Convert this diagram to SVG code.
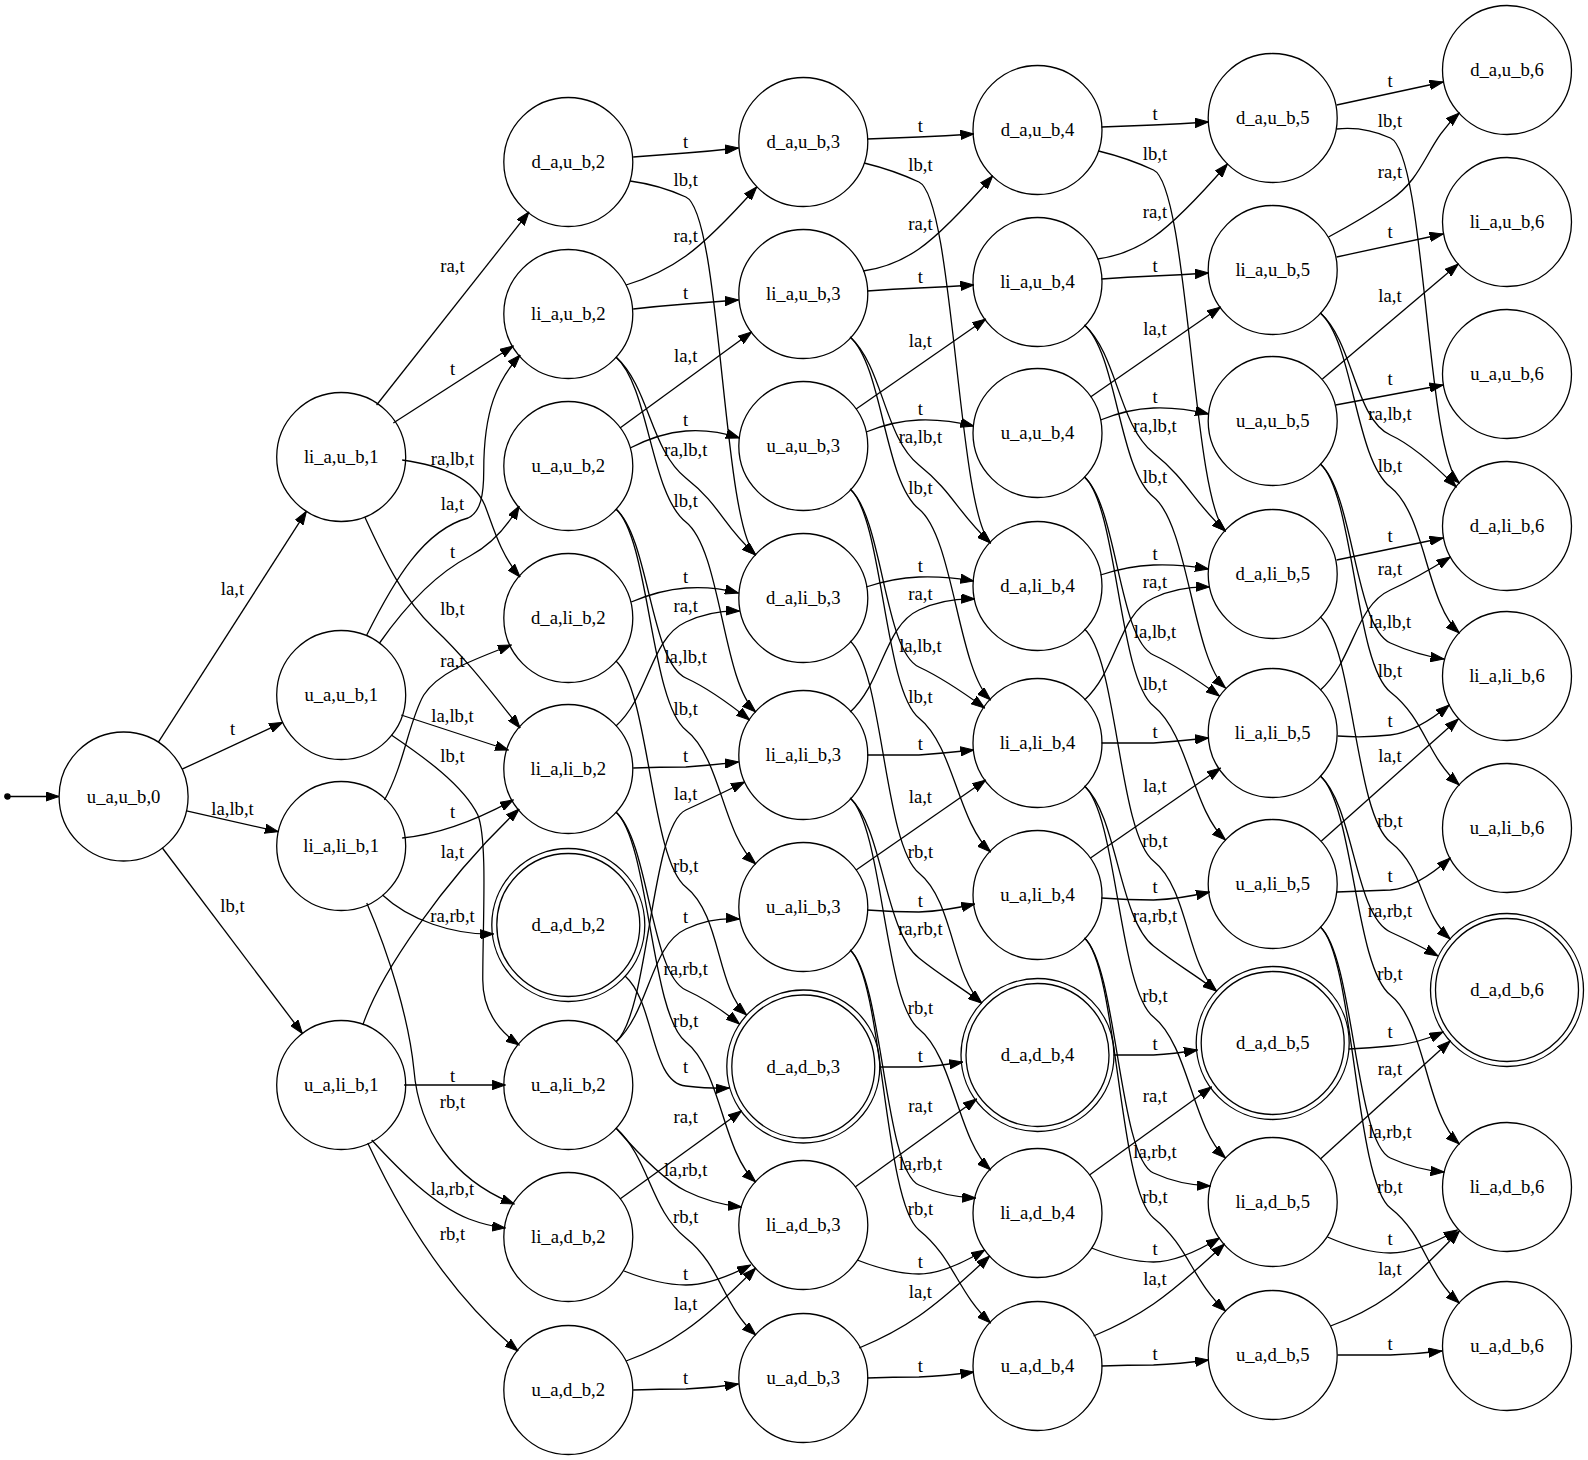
<svg xmlns="http://www.w3.org/2000/svg" width="1588" height="1460" viewBox="0 0 1588 1460">
<defs>
<marker id="arr" markerUnits="userSpaceOnUse" viewBox="0 0 14 10" markerWidth="14" markerHeight="10" refX="13.4" refY="5" orient="auto">
<path d="M0,0.35 L13.4,5 L0,9.65 Z" fill="#000" stroke="#000" stroke-width="1"/>
</marker>
</defs>
<style>
.node circle{fill:none;stroke:#000;stroke-width:1.3}
text{font-family:"Liberation Serif","Times New Roman",serif;font-size:18.67px;text-anchor:middle;fill:#000}
.edges path{fill:none;stroke:#000;stroke-width:1.3;marker-end:url(#arr)}
</style>
<rect width="1588" height="1460" fill="#fff"/>
<g id="nodes">
<g id="start" class="node"><circle cx="7.4" cy="796.5" r="2.6" style="fill:#000"/></g>
<g id="u_a_u_b_0" class="node"><circle cx="123.6" cy="796.5" r="64.5"/><text x="123.6" y="802.5">u_a,u_b,0</text></g>
<g id="li_a_u_b_1" class="node"><circle cx="341.2" cy="457" r="64.5"/><text x="341.2" y="463">li_a,u_b,1</text></g>
<g id="u_a_u_b_1" class="node"><circle cx="341.2" cy="695" r="64.5"/><text x="341.2" y="701">u_a,u_b,1</text></g>
<g id="li_a_li_b_1" class="node"><circle cx="341.2" cy="846" r="64.5"/><text x="341.2" y="852">li_a,li_b,1</text></g>
<g id="u_a_li_b_1" class="node"><circle cx="341.2" cy="1085" r="64.5"/><text x="341.2" y="1091">u_a,li_b,1</text></g>
<g id="d_a_u_b_2" class="node"><circle cx="568.3" cy="162" r="64.5"/><text x="568.3" y="168">d_a,u_b,2</text></g>
<g id="li_a_u_b_2" class="node"><circle cx="568.3" cy="314" r="64.5"/><text x="568.3" y="320">li_a,u_b,2</text></g>
<g id="u_a_u_b_2" class="node"><circle cx="568.3" cy="466" r="64.5"/><text x="568.3" y="472">u_a,u_b,2</text></g>
<g id="d_a_li_b_2" class="node"><circle cx="568.3" cy="618" r="64.5"/><text x="568.3" y="624">d_a,li_b,2</text></g>
<g id="li_a_li_b_2" class="node"><circle cx="568.3" cy="769" r="64.5"/><text x="568.3" y="775">li_a,li_b,2</text></g>
<g id="d_a_d_b_2" class="node"><circle cx="568.3" cy="925" r="71.5"/><circle cx="568.3" cy="925" r="76.5"/><text x="568.3" y="931">d_a,d_b,2</text></g>
<g id="u_a_li_b_2" class="node"><circle cx="568.3" cy="1085" r="64.5"/><text x="568.3" y="1091">u_a,li_b,2</text></g>
<g id="li_a_d_b_2" class="node"><circle cx="568.3" cy="1237" r="64.5"/><text x="568.3" y="1243">li_a,d_b,2</text></g>
<g id="u_a_d_b_2" class="node"><circle cx="568.3" cy="1390" r="64.5"/><text x="568.3" y="1396">u_a,d_b,2</text></g>
<g id="d_a_u_b_3" class="node"><circle cx="803.3" cy="142" r="64.5"/><text x="803.3" y="148">d_a,u_b,3</text></g>
<g id="li_a_u_b_3" class="node"><circle cx="803.3" cy="294" r="64.5"/><text x="803.3" y="300">li_a,u_b,3</text></g>
<g id="u_a_u_b_3" class="node"><circle cx="803.3" cy="446" r="64.5"/><text x="803.3" y="452">u_a,u_b,3</text></g>
<g id="d_a_li_b_3" class="node"><circle cx="803.3" cy="598" r="64.5"/><text x="803.3" y="604">d_a,li_b,3</text></g>
<g id="li_a_li_b_3" class="node"><circle cx="803.3" cy="755" r="64.5"/><text x="803.3" y="761">li_a,li_b,3</text></g>
<g id="u_a_li_b_3" class="node"><circle cx="803.3" cy="907" r="64.5"/><text x="803.3" y="913">u_a,li_b,3</text></g>
<g id="d_a_d_b_3" class="node"><circle cx="803.3" cy="1066.5" r="71.5"/><circle cx="803.3" cy="1066.5" r="76.5"/><text x="803.3" y="1072.5">d_a,d_b,3</text></g>
<g id="li_a_d_b_3" class="node"><circle cx="803.3" cy="1225" r="64.5"/><text x="803.3" y="1231">li_a,d_b,3</text></g>
<g id="u_a_d_b_3" class="node"><circle cx="803.3" cy="1378" r="64.5"/><text x="803.3" y="1384">u_a,d_b,3</text></g>
<g id="d_a_u_b_4" class="node"><circle cx="1037.5" cy="130" r="64.5"/><text x="1037.5" y="136">d_a,u_b,4</text></g>
<g id="li_a_u_b_4" class="node"><circle cx="1037.5" cy="282" r="64.5"/><text x="1037.5" y="288">li_a,u_b,4</text></g>
<g id="u_a_u_b_4" class="node"><circle cx="1037.5" cy="433" r="64.5"/><text x="1037.5" y="439">u_a,u_b,4</text></g>
<g id="d_a_li_b_4" class="node"><circle cx="1037.5" cy="586" r="64.5"/><text x="1037.5" y="592">d_a,li_b,4</text></g>
<g id="li_a_li_b_4" class="node"><circle cx="1037.5" cy="743" r="64.5"/><text x="1037.5" y="749">li_a,li_b,4</text></g>
<g id="u_a_li_b_4" class="node"><circle cx="1037.5" cy="895" r="64.5"/><text x="1037.5" y="901">u_a,li_b,4</text></g>
<g id="d_a_d_b_4" class="node"><circle cx="1037.5" cy="1055" r="71.5"/><circle cx="1037.5" cy="1055" r="76.5"/><text x="1037.5" y="1061">d_a,d_b,4</text></g>
<g id="li_a_d_b_4" class="node"><circle cx="1037.5" cy="1213" r="64.5"/><text x="1037.5" y="1219">li_a,d_b,4</text></g>
<g id="u_a_d_b_4" class="node"><circle cx="1037.5" cy="1366" r="64.5"/><text x="1037.5" y="1372">u_a,d_b,4</text></g>
<g id="d_a_u_b_5" class="node"><circle cx="1272.7" cy="118" r="64.5"/><text x="1272.7" y="124">d_a,u_b,5</text></g>
<g id="li_a_u_b_5" class="node"><circle cx="1272.7" cy="270" r="64.5"/><text x="1272.7" y="276">li_a,u_b,5</text></g>
<g id="u_a_u_b_5" class="node"><circle cx="1272.7" cy="421" r="64.5"/><text x="1272.7" y="427">u_a,u_b,5</text></g>
<g id="d_a_li_b_5" class="node"><circle cx="1272.7" cy="574" r="64.5"/><text x="1272.7" y="580">d_a,li_b,5</text></g>
<g id="li_a_li_b_5" class="node"><circle cx="1272.7" cy="733" r="64.5"/><text x="1272.7" y="739">li_a,li_b,5</text></g>
<g id="u_a_li_b_5" class="node"><circle cx="1272.7" cy="884" r="64.5"/><text x="1272.7" y="890">u_a,li_b,5</text></g>
<g id="d_a_d_b_5" class="node"><circle cx="1272.7" cy="1043" r="71.5"/><circle cx="1272.7" cy="1043" r="76.5"/><text x="1272.7" y="1049">d_a,d_b,5</text></g>
<g id="li_a_d_b_5" class="node"><circle cx="1272.7" cy="1202" r="64.5"/><text x="1272.7" y="1208">li_a,d_b,5</text></g>
<g id="u_a_d_b_5" class="node"><circle cx="1272.7" cy="1355" r="64.5"/><text x="1272.7" y="1361">u_a,d_b,5</text></g>
<g id="d_a_u_b_6" class="node"><circle cx="1507" cy="70" r="64.5"/><text x="1507" y="76">d_a,u_b,6</text></g>
<g id="li_a_u_b_6" class="node"><circle cx="1507" cy="222" r="64.5"/><text x="1507" y="228">li_a,u_b,6</text></g>
<g id="u_a_u_b_6" class="node"><circle cx="1507" cy="374" r="64.5"/><text x="1507" y="380">u_a,u_b,6</text></g>
<g id="d_a_li_b_6" class="node"><circle cx="1507" cy="526" r="64.5"/><text x="1507" y="532">d_a,li_b,6</text></g>
<g id="li_a_li_b_6" class="node"><circle cx="1507" cy="676" r="64.5"/><text x="1507" y="682">li_a,li_b,6</text></g>
<g id="u_a_li_b_6" class="node"><circle cx="1507" cy="828" r="64.5"/><text x="1507" y="834">u_a,li_b,6</text></g>
<g id="d_a_d_b_6" class="node"><circle cx="1507" cy="990" r="71.5"/><circle cx="1507" cy="990" r="76.5"/><text x="1507" y="996">d_a,d_b,6</text></g>
<g id="li_a_d_b_6" class="node"><circle cx="1507" cy="1187" r="64.5"/><text x="1507" y="1193">li_a,d_b,6</text></g>
<g id="u_a_d_b_6" class="node"><circle cx="1507" cy="1346" r="64.5"/><text x="1507" y="1352">u_a,d_b,6</text></g>
</g>
<g id="edges" class="edges">
<g id="e01">
<path d="M10,796.5 L59,796.5"/>
<path d="M158.4,742.2 L306.4,511.3"/>
<path d="M182.1,769.2 L282.7,722.3"/>
<path d="M186.5,810.8 L278.3,831.7"/>
<path d="M162.4,848 L302.4,1033.5"/>
</g>
<g id="e12" transform="matrix(0.9831,0,0,1,10.88,0)">
<path d="M372,405 L527,212"/>
<path d="M389,423 L511,346"/>
<path d="M398,460 C440,466 470,478 482,505 C490,525 498,555 518,577"/>
<path d="M362,635 C390,580 420,530 465,518 C478,512 481,495 481,470 C481,410 495,380 518,355"/>
<path d="M375,643 Q420,580 467,556 Q497,540 517,506"/>
<path d="M360,517 C380,560 400,600 430,628 C465,660 495,700 518,728"/>
<path d="M380,800 C400,765 405,720 420,695 C435,672 470,660 509,645"/>
<path d="M397,715 L506,750"/>
<path d="M387,735 C420,757 460,785 475,815 C485,840 480,920 480,980 C480,1010 495,1030 517,1045"/>
<path d="M398,838 C430,835 470,822 511,800"/>
<path d="M358,1025 C375,975 440,880 517,809"/>
<path d="M378,895 C405,920 450,935 491,934"/>
<path d="M400,1085 L503,1085"/>
<path d="M362,903 C385,955 405,1020 410,1070 C415,1130 450,1180 512,1204"/>
<path d="M367,1140 C395,1170 430,1205 466,1219 Q485,1226 503,1228"/>
<path d="M363,1143 C390,1200 440,1290 516,1351"/>
</g>
<g id="e23" transform="matrix(1.01293,0,0,1,-5.99,0)">
<path d="M631,157 Q657,155 683,153 Q709,151 735,148"/>
<path d="M628,181 Q657,185 683,197 C718,213 719,525 752,555"/>
<path d="M624,285 Q657,275 683,256 Q709,237 753,187"/>
<path d="M631,309 Q657,306 683,304 Q709,302 735,300"/>
<path d="M618,428 L748,332"/>
<path d="M628,448 Q657,433 683,431 Q709,429 736,438"/>
<path d="M614,357 C647,387 648,450 683,478 C718,506 719,525 752,555"/>
<path d="M614,357 C647,387 648,494 683,522 C718,550 719,682 752,712"/>
<path d="M629,602 Q657,590 683,588 Q709,586 735,593"/>
<path d="M614,726 C647,696 648,638 683,622 Q709,610 736,611"/>
<path d="M614,509 C647,539 648,662 683,678 Q709,690 746,720"/>
<path d="M614,509 C647,539 648,702 683,730 C718,758 719,834 752,864"/>
<path d="M631,768 Q657,767 683,767 Q709,765 735,762"/>
<path d="M614,1042 C647,1012 648,826 683,810 Q709,798 741,782"/>
<path d="M614,661 C647,691 648,859 683,887 C718,915 713,988 743,1015"/>
<path d="M614,1042 C647,1012 648,945 683,929 Q709,917 736,919"/>
<path d="M614,812 C647,842 648,974 683,990 Q709,1002 736,1024"/>
<path d="M614,812 C647,842 648,1014 683,1042 C718,1070 719,1152 752,1182"/>
<path d="M623,976 C653,1003 648,1083 683,1086 Q709,1089 726,1088"/>
<path d="M618,1199 L738,1111"/>
<path d="M614,1128 Q657,1178 683,1191 Q709,1204 738,1207"/>
<path d="M614,1128 C647,1158 648,1210 683,1238 C718,1266 719,1305 752,1335"/>
<path d="M622,1271 Q657,1285 683,1285 Q709,1285 747,1265"/>
<path d="M624,1361 Q657,1349 683,1330 Q709,1312 752,1268"/>
<path d="M631,1390 Q657,1389 683,1389 Q709,1388 735,1384"/>
</g>
<g id="e34" transform="matrix(0.9966,0,0,1,7.03,0)">
<path d="M863,139 Q889,138 915,137 Q941,136 970,134"/>
<path d="M860,163 Q889,170 915,182 C950,198 954,513 987,543"/>
<path d="M859,271 Q889,267 915,249 Q941,231 989,176"/>
<path d="M863,291 Q889,289 915,288 Q941,287 970,285"/>
<path d="M852,409 L982,319"/>
<path d="M862,432 Q889,421 915,420 Q941,419 970,426"/>
<path d="M846,337 C879,367 880,437 915,465 C950,493 954,513 987,543"/>
<path d="M846,337 C879,367 880,481 915,509 C950,537 954,670 987,700"/>
<path d="M862,587 Q889,578 915,577 Q941,576 970,581"/>
<path d="M846,712 C879,682 880,626 915,610 Q941,598 971,599"/>
<path d="M846,489 C879,519 880,651 915,667 Q941,679 981,708"/>
<path d="M846,489 C879,519 880,690 915,718 C950,746 954,822 987,852"/>
<path d="M863,755 Q889,755 915,755 Q941,753 970,750"/>
<path d="M852,870 L982,780"/>
<path d="M846,641 C879,671 880,845 915,873 C950,901 948,976 978,1003"/>
<path d="M863,910 Q889,912 915,912 Q941,911 971,904"/>
<path d="M846,798 C879,828 880,930 915,958 C940,978 950,982 978,1003"/>
<path d="M846,798 C879,828 880,1001 915,1029 C950,1057 954,1140 987,1170"/>
<path d="M875,1067 Q895,1067 915,1067 Q935,1066 959,1062"/>
<path d="M851,1187 L973,1099"/>
<path d="M846,950 C879,980 880,1169 915,1185 Q941,1197 972,1198"/>
<path d="M846,950 C879,980 880,1202 915,1230 C950,1258 954,1293 987,1323"/>
<path d="M853,1260 Q889,1274 915,1274 Q941,1274 981,1250"/>
<path d="M855,1348 Q889,1334 915,1316 Q941,1298 986,1256"/>
<path d="M863,1378 Q889,1377 915,1377 Q941,1376 970,1372"/>
</g>
<g id="e45" transform="translate(238.5,-12)">
<path d="M863,139 Q889,138 915,137 Q941,136 970,134"/>
<path d="M860,163 Q889,170 915,182 C950,198 954,513 987,543"/>
<path d="M859,271 Q889,267 915,249 Q941,231 989,176"/>
<path d="M863,291 Q889,289 915,288 Q941,287 970,285"/>
<path d="M852,409 L982,319"/>
<path d="M862,432 Q889,421 915,420 Q941,419 970,426"/>
<path d="M846,337 C879,367 880,437 915,465 C950,493 954,513 987,543"/>
<path d="M846,337 C879,367 880,481 915,509 C950,537 954,670 987,700"/>
<path d="M862,587 Q889,578 915,577 Q941,576 970,581"/>
<path d="M846,712 C879,682 880,626 915,610 Q941,598 971,599"/>
<path d="M846,489 C879,519 880,651 915,667 Q941,679 981,708"/>
<path d="M846,489 C879,519 880,690 915,718 C950,746 954,822 987,852"/>
<path d="M863,755 Q889,755 915,755 Q941,753 970,750"/>
<path d="M852,870 L982,780"/>
<path d="M846,641 C879,671 880,845 915,873 C950,901 948,976 978,1003"/>
<path d="M863,910 Q889,912 915,912 Q941,911 971,904"/>
<path d="M846,798 C879,828 880,930 915,958 C940,978 950,982 978,1003"/>
<path d="M846,798 C879,828 880,1001 915,1029 C950,1057 954,1140 987,1170"/>
<path d="M875,1067 Q895,1067 915,1067 Q935,1066 959,1062"/>
<path d="M851,1187 L973,1099"/>
<path d="M846,950 C879,980 880,1169 915,1185 Q941,1197 972,1198"/>
<path d="M846,950 C879,980 880,1202 915,1230 C950,1258 954,1293 987,1323"/>
<path d="M853,1260 Q889,1274 915,1274 Q941,1274 981,1250"/>
<path d="M855,1348 Q889,1334 915,1316 Q941,1298 986,1256"/>
<path d="M863,1378 Q889,1377 915,1377 Q941,1376 970,1372"/>
</g>
<g id="e56" transform="matrix(1.01429,0,0,1,-14.43,0)">
<path d="M1332,105 L1437,82"/>
<path d="M1332,129 Q1359,126 1385,138 C1420,154 1420,453 1453,483"/>
<path d="M1324,237 Q1359,218 1385,200 C1420,176 1420,143 1453,113"/>
<path d="M1332,257 L1437,234"/>
<path d="M1318,379 L1452,264"/>
<path d="M1331,405 L1437,385"/>
<path d="M1316,313 C1349,343 1350,419 1385,435 Q1411,447 1450,487"/>
<path d="M1316,313 C1349,343 1350,459 1385,487 C1420,515 1420,603 1453,633"/>
<path d="M1332,560 L1437,538"/>
<path d="M1316,690 C1349,660 1350,606 1385,590 Q1411,578 1444,557"/>
<path d="M1316,464 C1349,494 1350,627 1385,643 Q1411,655 1438,659"/>
<path d="M1316,464 C1349,494 1350,664 1385,692 C1420,720 1420,755 1453,785"/>
<path d="M1333,736 Q1359,738 1385,735 Q1411,732 1443,705"/>
<path d="M1317,841 L1452,719"/>
<path d="M1316,617 C1349,647 1350,814 1385,842 C1420,870 1414,912 1444,939"/>
<path d="M1332,892 Q1359,891 1385,890 Q1411,888 1444,858"/>
<path d="M1316,776 C1349,806 1350,916 1385,932 Q1411,944 1432,956"/>
<path d="M1316,776 C1349,806 1350,967 1385,995 C1420,1023 1420,1114 1453,1144"/>
<path d="M1344,1049 Q1365,1048 1385,1046 Q1411,1044 1437,1032"/>
<path d="M1316,1159 L1444,1041"/>
<path d="M1316,927 C1349,957 1350,1142 1385,1158 Q1411,1170 1438,1172"/>
<path d="M1316,927 C1349,957 1350,1180 1385,1208 C1420,1236 1420,1273 1453,1303"/>
<path d="M1323,1237 Q1359,1253 1385,1253 Q1411,1253 1451,1230"/>
<path d="M1326,1326 Q1359,1314 1385,1295 Q1411,1276 1453,1231"/>
<path d="M1333,1355 Q1359,1355 1385,1355 Q1411,1354 1436,1351"/>
</g>
</g>
<g id="edge-labels">
<text x="232.5" y="595">la,t</text><text x="232.5" y="735">t</text><text x="232.5" y="815">la,lb,t</text><text x="232.5" y="912">lb,t</text>
<text x="452.5" y="272">ra,t</text><text x="452.5" y="375">t</text><text x="452.5" y="465">ra,lb,t</text><text x="452.5" y="510">la,t</text><text x="452.5" y="558">t</text><text x="452.5" y="615">lb,t</text><text x="452.5" y="667">ra,t</text><text x="452.5" y="722">la,lb,t</text><text x="452.5" y="762">lb,t</text><text x="452.5" y="818">t</text><text x="452.5" y="858">la,t</text><text x="452.5" y="922">ra,rb,t</text><text x="452.5" y="1082">t</text><text x="452.5" y="1108">rb,t</text><text x="452.5" y="1195">la,rb,t</text><text x="452.5" y="1240">rb,t</text>
<text x="685.7" y="148">t</text><text x="685.7" y="186">lb,t</text><text x="685.7" y="242">ra,t</text><text x="685.7" y="299">t</text><text x="685.7" y="362">la,t</text><text x="685.7" y="426">t</text><text x="685.7" y="456">ra,lb,t</text><text x="685.7" y="507">lb,t</text><text x="685.7" y="583">t</text><text x="685.7" y="612">ra,t</text><text x="685.7" y="663">la,lb,t</text><text x="685.7" y="715">lb,t</text><text x="685.7" y="762">t</text><text x="685.7" y="800">la,t</text><text x="685.7" y="872">rb,t</text><text x="685.7" y="923">t</text><text x="685.7" y="975">ra,rb,t</text><text x="685.7" y="1027">rb,t</text><text x="685.7" y="1073">t</text><text x="685.7" y="1123">ra,t</text><text x="685.7" y="1176">la,rb,t</text><text x="685.7" y="1223">rb,t</text><text x="685.7" y="1280">t</text><text x="685.7" y="1310">la,t</text><text x="685.7" y="1384">t</text>
<text x="920.4" y="132">t</text><text x="920.4" y="171">lb,t</text><text x="920.4" y="230">ra,t</text><text x="920.4" y="283">t</text><text x="920.4" y="347">la,t</text><text x="920.4" y="415">t</text><text x="920.4" y="443">ra,lb,t</text><text x="920.4" y="494">lb,t</text><text x="920.4" y="572">t</text><text x="920.4" y="600">ra,t</text><text x="920.4" y="652">la,lb,t</text><text x="920.4" y="703">lb,t</text><text x="920.4" y="750">t</text><text x="920.4" y="803">la,t</text><text x="920.4" y="858">rb,t</text><text x="920.4" y="907">t</text><text x="920.4" y="935">ra,rb,t</text><text x="920.4" y="1014">rb,t</text><text x="920.4" y="1062">t</text><text x="920.4" y="1112">ra,t</text><text x="920.4" y="1170">la,rb,t</text><text x="920.4" y="1215">rb,t</text><text x="920.4" y="1268">t</text><text x="920.4" y="1298">la,t</text><text x="920.4" y="1372">t</text>
<text x="1155" y="120">t</text><text x="1155" y="160">lb,t</text><text x="1155" y="218">ra,t</text><text x="1155" y="272">t</text><text x="1155" y="335">la,t</text><text x="1155" y="403">t</text><text x="1155" y="432">ra,lb,t</text><text x="1155" y="483">lb,t</text><text x="1155" y="560">t</text><text x="1155" y="588">ra,t</text><text x="1155" y="638">la,lb,t</text><text x="1155" y="690">lb,t</text><text x="1155" y="738">t</text><text x="1155" y="792">la,t</text><text x="1155" y="847">rb,t</text><text x="1155" y="893">t</text><text x="1155" y="922">ra,rb,t</text><text x="1155" y="1002">rb,t</text><text x="1155" y="1050">t</text><text x="1155" y="1102">ra,t</text><text x="1155" y="1158">la,rb,t</text><text x="1155" y="1203">rb,t</text><text x="1155" y="1255">t</text><text x="1155" y="1285">la,t</text><text x="1155" y="1360">t</text>
<text x="1390" y="87">t</text><text x="1390" y="127">lb,t</text><text x="1390" y="178">ra,t</text><text x="1390" y="238">t</text><text x="1390" y="302">la,t</text><text x="1390" y="385">t</text><text x="1390" y="420">ra,lb,t</text><text x="1390" y="472">lb,t</text><text x="1390" y="542">t</text><text x="1390" y="575">ra,t</text><text x="1390" y="628">la,lb,t</text><text x="1390" y="677">lb,t</text><text x="1390" y="727">t</text><text x="1390" y="762">la,t</text><text x="1390" y="827">rb,t</text><text x="1390" y="882">t</text><text x="1390" y="917">ra,rb,t</text><text x="1390" y="980">rb,t</text><text x="1390" y="1038">t</text><text x="1390" y="1075">ra,t</text><text x="1390" y="1138">la,rb,t</text><text x="1390" y="1193">rb,t</text><text x="1390" y="1245">t</text><text x="1390" y="1275">la,t</text><text x="1390" y="1350">t</text>
</g>
</svg>
